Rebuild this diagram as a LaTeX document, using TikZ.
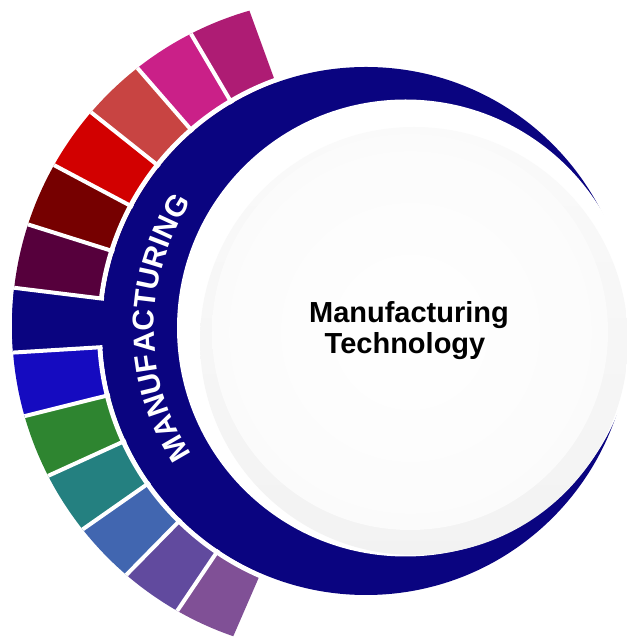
\documentclass[tikz,border=0pt]{standalone}
\usepackage{fontspec}
\setmainfont{Liberation Sans}
\usetikzlibrary{decorations.text}
\definecolor{navyring}{RGB}{10,4,128}
\definecolor{segA}{RGB}{174,28,116}
\definecolor{segB}{RGB}{202,32,136}
\definecolor{segC}{RGB}{200,68,66}
\definecolor{segD}{RGB}{210,0,0}
\definecolor{segE}{RGB}{118,0,0}
\definecolor{segF}{RGB}{86,0,60}
\definecolor{segH}{RGB}{21,11,192}
\definecolor{segI}{RGB}{46,133,48}
\definecolor{segJ}{RGB}{36,128,128}
\definecolor{segK}{RGB}{65,102,176}
\definecolor{segL}{RGB}{97,74,158}
\definecolor{segM}{RGB}{128,80,150}

\begin{document}
\begin{tikzpicture}[x=1pt,y=1pt,
    gapline/.style={white,line width=4pt},
    title/.style={font=\fontsize{29}{31}\selectfont\bfseries,anchor=base}]
  \useasboundingbox (0,0) rectangle (626,639);
  \coordinate (ringc) at (366,308);
  \coordinate (outc) at (340,313);
  \coordinate (cutc) at (405.5,311);
  \coordinate (shadec) at (414,298);
  \coordinate (discc) at (410,307);
  \coordinate (textc) at (384,311);
  % coloured blocks round the ring
  \begin{scope}
    \clip (outc) circle [radius=328];
    \foreach \a/\col in {110/segA,120.5/segB,131/segC,141.5/segD,152/segE,
        162.5/segF,173/navyring,183.5/segH,194/segI,204.5/segJ,215/segK,
        225.5/segL,236/segM} {
      \fill[\col] (ringc) -- +(\a:400) arc [start angle=\a, delta angle=10.5,
        radius=400] -- cycle;
    }
  \end{scope}
  \draw[white, line width=5] (ringc) circle [radius=266.5];
  \fill[navyring] (ringc) circle [radius=264];
  \begin{scope}
    \clip (outc) circle [radius=328];
    \fill[navyring] (ringc) -- +(173:400) arc [start angle=173,
      delta angle=10.5, radius=400] -- cycle;
    \foreach \a in {120.5,131,141.5,152,162.5,173,183.5,194,204.5,215,225.5,236}
      \draw[gapline] (ringc) ++(\a:264) -- +(\a:100);
  \end{scope}
  % crescent cut and centre disc
  \fill[white] (cutc) circle [radius=228.5];
  \shade[top color=gray!4, bottom color=gray!10] (shadec) circle [radius=214];
  \shade[inner color=white, outer color=gray!3] (discc) circle [radius=198];
  \path[decorate, decoration={text along path, text align=center,
      text={|\fontsize{30}{32}\selectfont\bfseries\color{white}|MANUFACTURING}}]
    ([shift={(215:230)}]textc) arc [start angle=215, end angle=145, radius=230];
  \node[title] (title1) at (409,316) {Manufacturing};
  \node[title] (title2) at (405,285) {Technology};
\end{tikzpicture}
\end{document}
